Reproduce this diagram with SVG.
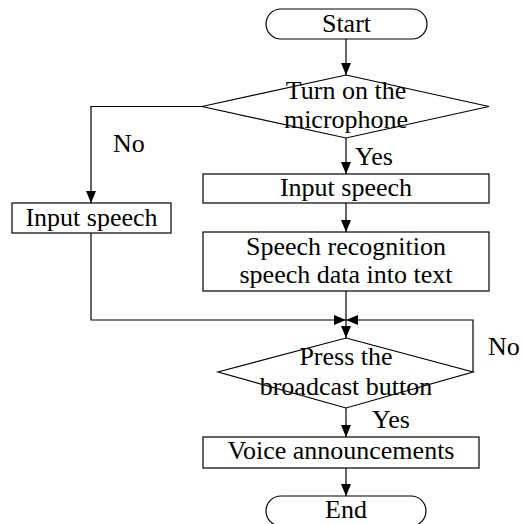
<svg xmlns="http://www.w3.org/2000/svg" width="523" height="524" viewBox="0 0 523 524">
  <style>
    .shape { fill: #ffffff; stroke: #000000; stroke-width: 1.2; }
    .line { fill: none; stroke: #000000; stroke-width: 1.2; }
    text { font-family: "Liberation Serif", "Tinos", "Times New Roman", "DejaVu Serif", serif; font-size: 26px; fill: #000000; }
    .label { text-anchor: middle; }
  </style>
  <defs>
    <marker id="arrow" viewBox="0 0 12 10" refX="12" refY="5" markerWidth="12" markerHeight="10" markerUnits="userSpaceOnUse" orient="auto">
      <path d="M0,0 L12,5 L0,10 Z" fill="#000000"/>
    </marker>
  </defs>
  <rect width="523" height="524" fill="#ffffff"/>

  <!-- connectors -->
  <g id="connectors">
    <line class="line" x1="346" y1="39" x2="346" y2="75" marker-end="url(#arrow)"/>
    <line class="line" x1="346" y1="138" x2="346" y2="174" marker-end="url(#arrow)"/>
    <polyline class="line" points="202,106.5 91,106.5 91,203" marker-end="url(#arrow)"/>
    <line class="line" x1="346" y1="203" x2="346" y2="232" marker-end="url(#arrow)"/>
    <line class="line" x1="346" y1="291" x2="346" y2="320"/>
    <polyline class="line" points="91,233 91,320 346,320" marker-end="url(#arrow)"/>
    <polyline class="line" points="473,372 473,320 346,320" marker-end="url(#arrow)"/>
    <line class="line" x1="346" y1="320" x2="346" y2="338" marker-end="url(#arrow)"/>
    <line class="line" x1="346" y1="408" x2="346" y2="437" marker-end="url(#arrow)"/>
    <line class="line" x1="346" y1="468" x2="346" y2="496" marker-end="url(#arrow)"/>
    <text x="113" y="152">No</text>
    <text x="355" y="165">Yes</text>
    <text x="488" y="355">No</text>
    <text x="372" y="428">Yes</text>
  </g>

  <g id="start">
    <rect class="shape" x="266" y="9" width="161" height="30" rx="15" ry="15"/>
    <text class="label" x="346.5" y="32">Start</text>
  </g>

  <g id="mic-decision">
    <polygon class="shape" points="346,75 489,106.5 346,138 202,106.5"/>
    <text class="label" x="346" y="99">Turn on the</text>
    <text class="label" x="346" y="128">microphone</text>
  </g>

  <g id="input-speech-left">
    <rect class="shape" x="12" y="203" width="159" height="30"/>
    <text class="label" x="91.5" y="226">Input speech</text>
  </g>

  <g id="input-speech-right">
    <rect class="shape" x="203" y="174" width="286" height="29"/>
    <text class="label" x="346" y="196">Input speech</text>
  </g>

  <g id="recognition">
    <rect class="shape" x="203" y="232" width="286" height="59"/>
    <text class="label" x="346" y="255">Speech recognition</text>
    <text class="label" x="346" y="283">speech data into text</text>
  </g>

  <g id="broadcast-decision">
    <polygon class="shape" points="346,338 473,372 346,408 218,372"/>
    <text class="label" x="346" y="365">Press the</text>
    <text class="label" x="346" y="395">broadcast button</text>
  </g>

  <g id="announce">
    <rect class="shape" x="203" y="437" width="276" height="31"/>
    <text class="label" x="341" y="459">Voice announcements</text>
  </g>

  <g id="end">
    <rect class="shape" x="266" y="496" width="160" height="30" rx="15" ry="15"/>
    <text class="label" x="346" y="518">End</text>
  </g>
</svg>
